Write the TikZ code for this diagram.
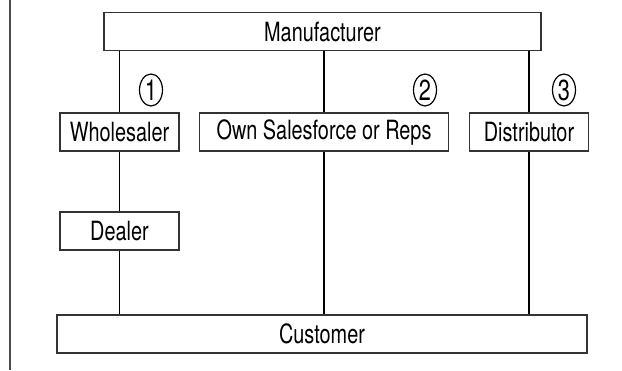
\documentclass[tikz,border=0pt]{standalone}
\usepackage{fontspec}
\setmainfont{TeX Gyre Heros}[FakeStretch=0.75]
\usetikzlibrary{shapes.geometric}
\newlength{\du}
\setlength{\du}{1pt}
\tikzset{
  chanbox/.style={draw=boxcolor, line width=1.5\du, minimum height=38\du, inner sep=0pt, text=black, font=\fontsize{26.5}{29}\selectfont},
  chanline/.style={draw=black, line width=1.2\du},
  chanmark/.style={ellipse, draw=black, line width=1.2\du, minimum width=23\du, minimum height=32\du, inner sep=0pt, font=\fontsize{29}{31}\selectfont}
}
\begin{document}
\begin{tikzpicture}
\pgftransformxscale{1.000000}
\pgftransformyscale{-1.000000}
\definecolor{boxcolor}{rgb}{0.200000, 0.200000, 0.200000}
\definecolor{rulecolor}{rgb}{0.300000, 0.300000, 0.300000}
\useasboundingbox (0\du,0\du) rectangle (622\du,370\du);
% margin rule
\draw[draw=rulecolor, line width=2\du] (10\du,0\du)--(10\du,370\du);
% channel boxes
\node[chanbox, minimum width=437\du] (manuf) at (322.500000\du,31.500000\du){Manufacturer};
\node[chanbox, minimum width=119\du] (whole) at (119.500000\du,132.000000\du){Wholesaler};
\node[chanbox, minimum width=249\du] (ownsf) at (324.000000\du,132.000000\du){Own Salesforce or Reps};
\node[chanbox, minimum width=119\du] (distr) at (529.000000\du,132.000000\du){Distributor};
\node[chanbox, minimum width=119\du] (dealer) at (119.500000\du,231.000000\du){Dealer};
\node[chanbox, minimum width=530\du] (cust) at (322.000000\du,334.000000\du){Customer};
% channel numbers
\node[chanmark] (markA) at (151.000000\du,90.000000\du){1};
\node[chanmark] (markB) at (425.000000\du,90.000000\du){2};
\node[chanmark] (markC) at (564.000000\du,90.000000\du){3};
% links
\draw[chanline] (manuf.south -| whole.north)--(whole.north);
\draw[chanline] (whole.south)--(dealer.north);
\draw[chanline] (dealer.south)--(dealer.south |- cust.north);
\draw[chanline] (manuf.south -| ownsf.north)--(ownsf.north);
\draw[chanline] (ownsf.south)--(ownsf.south |- cust.north);
\draw[chanline] (manuf.south -| distr.north)--(distr.north);
\draw[chanline] (distr.south)--(distr.south |- cust.north);
\end{tikzpicture}
\end{document}
